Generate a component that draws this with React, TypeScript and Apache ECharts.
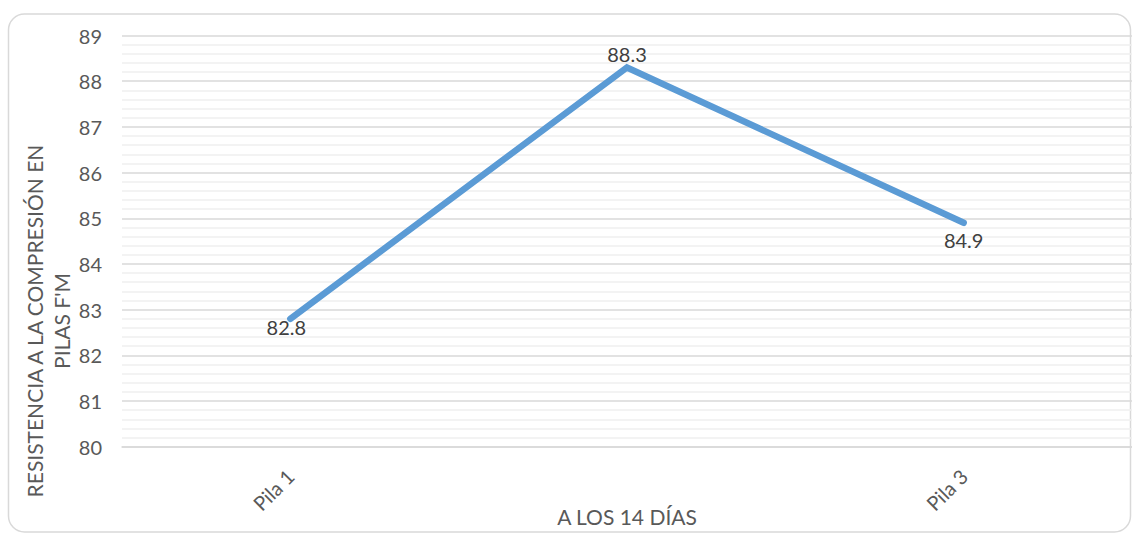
import React, { useEffect, useRef } from "react";
import * as echarts from "echarts";

// Compressive strength of masonry piles at 14 days
const categories: string[] = ["Pila 1", "Pila 2", "Pila 3"];
const strengthValues: number[] = [82.8, 88.3, 84.9];
const yMin = 80;
const yMax = 89;
const yStep = 1;

const yTitleLine1 = "RESISTENCIA A LA COMPRESIÓN EN";
const yTitleLine2 = "PILAS F'M";
const xTitle = "A LOS 14 DÍAS";

// per-point label nudges (px) relative to the point
const labelOffsets: [number, number][] = [
  [-4, 8],
  [0, -13],
  [0, 17],
];

const FONT = "Lato, 'Open Sans', sans-serif";

export default function App() {
  const ref = useRef<HTMLDivElement>(null);

  useEffect(() => {
    if (!ref.current) return;
    const chart = echarts.init(ref.current, undefined, { renderer: "svg" });

    chart.setOption({
      animation: false,
      backgroundColor: "#ffffff",
      textStyle: { fontFamily: FONT },
      grid: {
        left: 122,
        right: 0,
        top: 35.5,
        bottom: 87.3,
        containLabel: false,
        outerBoundsMode: "none",
      },
      xAxis: {
        type: "category",
        data: categories,
        boundaryGap: true,
        axisLine: { show: true, lineStyle: { color: "#d9d9d9", width: 1.5 } },
        axisTick: { show: false },
        axisLabel: {
          interval: 1,
          rotate: 45,
          margin: 26,
          color: "#595959",
          fontSize: 20,
          fontFamily: FONT,
        },
        splitLine: { show: false },
      },
      yAxis: {
        type: "value",
        min: yMin,
        max: yMax,
        interval: yStep,
        axisLine: { show: false },
        axisTick: { show: false },
        axisLabel: { margin: 20, color: "#595959", fontSize: 20, fontFamily: FONT },
        splitLine: { show: true, lineStyle: { color: "#d9d9d9", width: 1.5 } },
        minorTick: { show: false, splitNumber: 5 },
        minorSplitLine: { show: true, lineStyle: { color: "#efefef", width: 1.5 } },
      },
      series: [
        {
          type: "line",
          data: strengthValues.map((v, i) => ({
            value: v,
            label: { offset: labelOffsets[i] },
          })),
          showSymbol: true,
          symbol: "circle",
          symbolSize: 0.1,
          itemStyle: { color: "#5b9bd5" },
          lineStyle: { color: "#5b9bd5", width: 6.5, cap: "round", join: "miter" },
          label: {
            show: true,
            position: "inside",
            color: "#404040",
            fontSize: 20,
            fontFamily: FONT,
            formatter: (p: any) => Number(p.value).toFixed(1),
          },
          z: 3,
        },
      ],
      graphic: [
        {
          type: "rect",
          silent: true,
          z: -1,
          shape: { x: 8.5, y: 14, width: 1122, height: 518, r: 16 },
          style: { fill: "none", stroke: "#d9d9d9", lineWidth: 1.5 },
        },
        {
          type: "text",
          x: 34,
          y: 321,
          rotation: Math.PI / 2,
          style: {
            text: yTitleLine1,
            fill: "#595959",
            font: `21px ${FONT}`,
            align: "center",
            verticalAlign: "middle",
          },
        },
        {
          type: "text",
          x: 61,
          y: 321,
          rotation: Math.PI / 2,
          style: {
            text: yTitleLine2,
            fill: "#595959",
            font: `21px ${FONT}`,
            align: "center",
            verticalAlign: "middle",
          },
        },
        {
          type: "text",
          x: 627,
          y: 516,
          style: {
            text: xTitle,
            fill: "#595959",
            font: `21px ${FONT}`,
            align: "center",
            verticalAlign: "middle",
          },
        },
      ],
    });

    return () => chart.dispose();
  }, []);

  return (
    <div
      ref={ref}
      style={{ position: "absolute", left: 0, top: 0, width: 1132, height: 534 }}
    />
  );
}
